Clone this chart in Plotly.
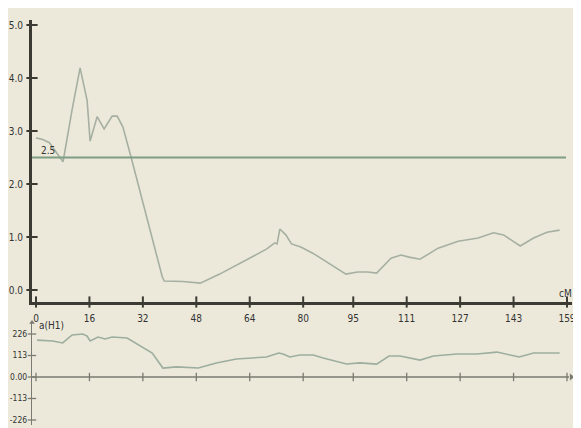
import plotly.graph_objects as go

# ---------------- data ----------------
x_ticks = [0, 16, 32, 48, 64, 80, 95, 111, 127, 143, 159]
lod_ticks = [0.0, 1.0, 2.0, 3.0, 4.0, 5.0]
lod_tick_text = ["0.0", "1.0", "2.0", "3.0", "4.0", "5.0"]
a_ticks = [-226, -113, 0, 113, 226]
a_tick_text = ["-226", "-113", "0.00", "113", "226"]
threshold = 2.5

lod_cm = [0, 2, 4, 5.5, 8.1, 10.8, 13.2, 15.3, 16.2, 18.3, 20.4, 22.8, 24.3, 26,
          28.5, 37.8, 38.4, 44, 49.2, 55, 62, 69, 71.5, 72.2, 73, 74.8, 76.5,
          79.3, 83, 86, 92.8, 96.3, 99.4, 102, 106.3, 109.3, 111.7, 115, 120.4,
          126.4, 132.4, 137, 140, 145, 149, 153, 156.8]
lod = [2.87, 2.84, 2.78, 2.65, 2.42, 3.4, 4.19, 3.58, 2.81, 3.27, 3.04, 3.28,
       3.28, 3.08, 2.5, 0.25, 0.17, 0.16, 0.13, 0.3, 0.53, 0.77, 0.89, 0.87,
       1.15, 1.04, 0.87, 0.81, 0.69, 0.57, 0.3, 0.34, 0.34, 0.32, 0.6, 0.66,
       0.62, 0.58, 0.79, 0.92, 0.98, 1.08, 1.04, 0.83, 0.98, 1.09, 1.13]

a_cm = [0.3, 5, 8, 10.8, 14, 15.3, 16.2, 18.6, 20.7, 22.8, 27.3, 31, 34.8, 38,
        42, 48.6, 54, 60, 69, 72.7, 74, 76, 79, 83, 86, 93, 97, 102, 105.7,
        109, 115, 119, 126, 132, 138, 144.7, 149, 156.8]
a_h1 = [194, 189, 179, 221, 226, 215, 189, 210, 200, 210, 205, 168, 126, 47,
        53, 47, 74, 95, 105, 126, 121, 105, 116, 116, 100, 68, 74, 68, 110,
        110, 89, 110, 121, 121, 131, 105, 126, 126]

# ---------------- styling ----------------
BG = "#ECE9DA"
AX = "#3b3b33"
AX2 = "#7a7a72"
CURVE = "#a6b0a2"
CURVE2 = "#9cae9f"
THR = "#7e9e82"
FONT = "Liberation Sans Narrow, DejaVu Sans Condensed, Liberation Sans, sans-serif"

X0 = -1.2
XR = [X0, 160.5]
YR1 = [-0.2264, 5.0943]
YR2 = [-252.3, 289.1]

fig = go.Figure()

# LOD curve
fig.add_trace(go.Scatter(x=lod_cm, y=lod, mode="lines",
                         line=dict(color=CURVE, width=1.6),
                         xaxis="x", yaxis="y", hoverinfo="skip"))
# threshold line
fig.add_trace(go.Scatter(x=[X0, 158.7], y=[threshold, threshold], mode="lines",
                         line=dict(color=THR, width=2),
                         xaxis="x", yaxis="y", hoverinfo="skip"))
# top x ticks (crossing marks)
fig.add_trace(go.Scatter(x=x_ticks, y=[YR1[0]] * len(x_ticks), mode="markers",
                         marker=dict(symbol="line-ns", size=8,
                                     line=dict(color=AX, width=2)),
                         cliponaxis=False, xaxis="x", yaxis="y", hoverinfo="skip"))
# top y ticks
fig.add_trace(go.Scatter(x=[X0] * len(lod_ticks), y=lod_ticks, mode="markers",
                         marker=dict(symbol="line-ew", size=8,
                                     line=dict(color=AX, width=2)),
                         cliponaxis=False, xaxis="x", yaxis="y", hoverinfo="skip"))
# arrows top axes
fig.add_trace(go.Scatter(x=[X0], y=[5.2], mode="markers",
                         marker=dict(symbol="triangle-up", size=10, color=AX,
                                     line=dict(width=0)),
                         cliponaxis=False, xaxis="x", yaxis="y", hoverinfo="skip"))
fig.add_trace(go.Scatter(x=[160.8], y=[YR1[0]], mode="markers",
                         marker=dict(symbol="triangle-right", size=10, color=AX,
                                     line=dict(width=0)),
                         cliponaxis=False, xaxis="x", yaxis="y", hoverinfo="skip"))

# bottom: a(H1) curve
fig.add_trace(go.Scatter(x=a_cm, y=a_h1, mode="lines",
                         line=dict(color=CURVE2, width=1.6),
                         xaxis="x2", yaxis="y2", hoverinfo="skip"))
# bottom zero axis line
fig.add_trace(go.Scatter(x=[X0, 159.6], y=[0, 0], mode="lines",
                         line=dict(color=AX2, width=1.3),
                         cliponaxis=False, xaxis="x2", yaxis="y2", hoverinfo="skip"))
fig.add_trace(go.Scatter(x=x_ticks, y=[0] * len(x_ticks), mode="markers",
                         marker=dict(symbol="line-ns", size=6,
                                     line=dict(color=AX2, width=1.3)),
                         cliponaxis=False, xaxis="x2", yaxis="y2", hoverinfo="skip"))
fig.add_trace(go.Scatter(x=[X0] * len(a_ticks), y=a_ticks, mode="markers",
                         marker=dict(symbol="line-ew", size=6,
                                     line=dict(color=AX2, width=1.3)),
                         cliponaxis=False, xaxis="x2", yaxis="y2", hoverinfo="skip"))
fig.add_trace(go.Scatter(x=[160.3], y=[0], mode="markers",
                         marker=dict(symbol="triangle-right", size=6, color=AX2,
                                     line=dict(width=0)),
                         cliponaxis=False, xaxis="x2", yaxis="y2", hoverinfo="skip"))
fig.add_trace(go.Scatter(x=[X0], y=[287], mode="markers",
                         marker=dict(symbol="triangle-up", size=5, color=AX2,
                                     line=dict(width=0)),
                         cliponaxis=False, xaxis="x2", yaxis="y2", hoverinfo="skip"))

annots = [
    dict(text="LOD0", x=0.0, y=5.15, xref="x", yref="y", xanchor="left",
         yanchor="middle", font=dict(size=10, color="#333")),
    dict(text="cM", x=158.7, y=-0.07, xref="x", yref="y", xanchor="center",
         yanchor="middle", font=dict(size=10, color="#333")),
    dict(text="2.5", x=3.6, y=2.63, xref="x", yref="y", xanchor="center",
         yanchor="middle", font=dict(size=10, color="#333")),
    dict(text="a(H1)", x=0.3, y=272, xref="x2", yref="y2", xanchor="left",
         yanchor="middle", font=dict(size=10, color="#333")),
]
for a in annots:
    a["showarrow"] = False
    a["font"]["family"] = FONT
fig.update_layout(annotations=annots)

# the page's default 8px body margin supplies the white strip at top/left
fig.update_layout(
    width=573, height=420,
    margin=dict(l=24, r=9, t=12, b=3, autoexpand=False),
    paper_bgcolor=BG, plot_bgcolor="rgba(0,0,0,0)",
    showlegend=False,
    font=dict(family=FONT, size=10, color="#333"),
    xaxis=dict(domain=[0, 1], range=XR, anchor="y", showgrid=False, zeroline=False,
               automargin=False, showline=True, linecolor=AX, linewidth=3,
               tickmode="array", tickvals=x_ticks, ticktext=[str(v) for v in x_ticks],
               ticks="", ticklabelstandoff=5, tickfont=dict(size=10, color="#333")),
    yaxis=dict(domain=[(425 - 302) / 405, 1], range=YR1, anchor="x", showgrid=False,
               automargin=False, zeroline=False, showline=True, linecolor=AX, linewidth=3,
               tickmode="array", tickvals=lod_ticks, ticktext=lod_tick_text,
               ticks="", ticklabelstandoff=4, tickfont=dict(size=10, color="#333")),
    xaxis2=dict(domain=[0, 1], range=XR, anchor="y2", showgrid=False, zeroline=False,
                automargin=False, showline=False, showticklabels=False, ticks=""),
    yaxis2=dict(domain=[0, (425 - 322) / 405], range=YR2, anchor="x2", showgrid=False,
                automargin=False, zeroline=False, showline=True, linecolor=AX2,
                linewidth=1.3, tickmode="array", tickvals=a_ticks, ticktext=a_tick_text,
                ticks="", ticklabelstandoff=2, tickfont=dict(size=8.5, color="#333")),
)

fig.write_html("out.html")
